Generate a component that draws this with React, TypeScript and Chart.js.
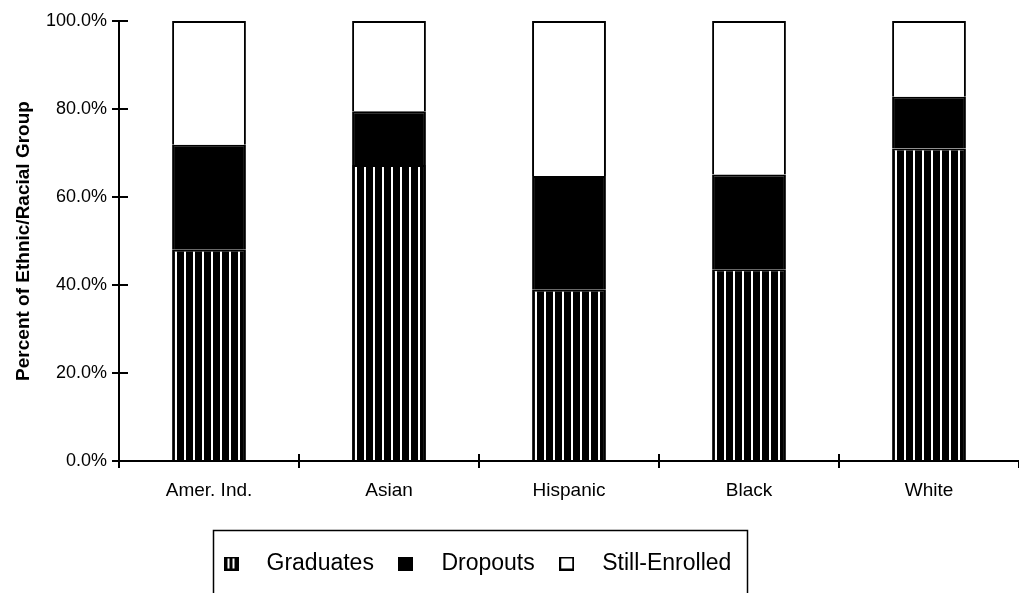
import { useEffect, useRef } from "react";
import { Chart, registerables } from "chart.js";

Chart.register(...registerables);

const categories = ["Amer. Ind.", "Asian", "Hispanic", "Black", "White"];
const seriesNames = ["Graduates", "Dropouts", "Still-Enrolled"];
const graduates = [48.0, 67.3, 38.9, 43.6, 71.0];
const dropouts = [23.9, 12.2, 25.9, 21.5, 11.8];
const stillEnrolled = [28.1, 20.5, 35.2, 34.9, 17.2];
const yTickLabels = ["0.0%", "20.0%", "40.0%", "60.0%", "80.0%", "100.0%"];
const yAxisTitle = "Percent of Ethnic/Racial Group";

const FONT = "'Liberation Sans', Arial, Helvetica, sans-serif";
const LEGEND_START = 207;
const LEGEND_FRAME_WIDTH = 534;

function makeCanvas(w: number, h: number, draw: (c: CanvasRenderingContext2D) => void) {
  const c = document.createElement("canvas");
  c.width = w;
  c.height = h;
  const ctx = c.getContext("2d") as CanvasRenderingContext2D;
  draw(ctx);
  return c;
}

const axisDecor = {
  id: "axisDecor",
  afterLayout(chart: any) {
    const lg = chart.legend;
    if (!lg || !lg.lineWidths) return;
    const pad = lg.options.labels.padding;
    const start = (lg.left + pad + lg.right - lg.lineWidths[0]) / 2;
    const shift = LEGEND_START - start;
    lg.left += shift;
    lg.right += shift;
  },
  afterDraw(chart: any) {
    const { ctx, chartArea } = chart;
    const x = chart.scales.x;
    const y = chart.scales.y;
    ctx.save();
    ctx.strokeStyle = "#000";
    ctx.lineWidth = 2;
    const line = (x1: number, y1: number, x2: number, y2: number) => {
      ctx.beginPath();
      ctx.moveTo(x1, y1);
      ctx.lineTo(x2, y2);
      ctx.stroke();
    };
    y.ticks.forEach((t: any) => {
      const py = Math.round(y.getPixelForValue(t.value));
      line(chartArea.left, py, chartArea.left + 9, py);
    });
    for (let i = 1; i < categories.length; i++) {
      const px = Math.round((x.getPixelForValue(i - 1) + x.getPixelForValue(i)) / 2);
      line(px, chartArea.bottom, px, chartArea.bottom - 7);
    }
    const lg = chart.legend;
    if (lg && lg.lineWidths) {
      const pad = lg.options.labels.padding;
      const start = (lg.left + pad + lg.right - lg.lineWidths[0]) / 2;
      ctx.lineWidth = 1.5;
      ctx.strokeRect(Math.round(start + 6) + 0.5, Math.round(lg.top - 14) + 0.5, LEGEND_FRAME_WIDTH, 120);
    }
    ctx.restore();
  },
};

export default function App() {
  const ref = useRef<HTMLCanvasElement | null>(null);

  useEffect(() => {
    const canvas = ref.current;
    if (!canvas) return;
    const ctx = canvas.getContext("2d") as CanvasRenderingContext2D;

    const tile = makeCanvas(9, 9, (c) => {
      c.fillStyle = "#000";
      c.fillRect(0, 0, 9, 9);
      c.fillStyle = "#fff";
      c.fillRect(4, 0, 2, 9);
    });
    const stripe = ctx.createPattern(tile, "repeat") as CanvasPattern;

    const iconGrad = makeCanvas(15, 14, (c) => {
      c.fillStyle = "#000";
      c.fillRect(0, 0, 15, 14);
      c.fillStyle = "#fff";
      c.fillRect(4, 2, 2, 10);
      c.fillRect(9, 2, 2, 10);
    });
    const iconDrop = makeCanvas(15, 14, (c) => {
      c.fillStyle = "#000";
      c.fillRect(0, 0, 15, 14);
    });
    const iconStill = makeCanvas(15, 14, (c) => {
      c.fillStyle = "#fff";
      c.fillRect(0, 0, 15, 14);
      c.strokeStyle = "#000";
      c.lineWidth = 2;
      c.strokeRect(1, 1, 13, 12);
    });
    const icons = [iconGrad, iconDrop, iconStill];

    const common = {
      borderColor: "#000",
      borderWidth: 2,
      barPercentage: 0.41,
      categoryPercentage: 1,
    };

    const chart = new Chart(canvas, {
      type: "bar",
      data: {
        labels: categories,
        datasets: [
          { label: seriesNames[0], data: graduates, backgroundColor: stripe, ...common },
          { label: seriesNames[1], data: dropouts, backgroundColor: "#000", ...common },
          { label: seriesNames[2], data: stillEnrolled, backgroundColor: "#fff", ...common },
        ],
      },
      options: {
        responsive: false,
        animation: false,
        layout: { padding: { top: 21, bottom: 8, left: 0, right: 0 } },
        plugins: {
          tooltip: { enabled: false },
          legend: {
            position: "bottom",
            labels: {
              usePointStyle: true,
              pointStyleWidth: 48,
              boxHeight: 14,
              padding: 8,
              color: "#000",
              font: { family: FONT, size: 23 },
              generateLabels: (ch: any) =>
                ch.data.datasets.map((ds: any, i: number) => ({
                  text: ds.label,
                  fillStyle: "#000",
                  strokeStyle: "#000",
                  lineWidth: 0,
                  pointStyle: icons[i],
                  hidden: false,
                  datasetIndex: i,
                  fontColor: "#000",
                })),
            },
          },
        },
        scales: {
          x: {
            stacked: true,
            grid: {
              display: true,
              drawOnChartArea: false,
              drawTicks: true,
              tickLength: 7,
              color: "#000",
              lineWidth: 2,
              offset: true,
            },
            border: { display: true, color: "#000", width: 2 },
            ticks: {
              font: { family: FONT, size: 19 },
              color: "#000",
              padding: 11,
              maxRotation: 0,
              autoSkip: false,
            },
            afterFit: (s: any) => {
              s.height = 83;
            },
          },
          y: {
            stacked: true,
            min: 0,
            max: 100,
            ticks: {
              stepSize: 20,
              font: { family: FONT, size: 18 },
              color: "#000",
              padding: 5,
              callback: (_v: any, i: number) => yTickLabels[i],
            },
            grid: {
              display: true,
              drawOnChartArea: false,
              drawTicks: true,
              tickLength: 7,
              color: "#000",
              lineWidth: 2,
            },
            border: { display: true, color: "#000", width: 2 },
            title: {
              display: true,
              text: yAxisTitle,
              color: "#000",
              font: { family: FONT, size: 19, weight: "bold" },
              padding: { top: 12, bottom: 0 },
            },
            afterFit: (s: any) => {
              s.width = 119;
            },
          },
        },
      },
      plugins: [axisDecor],
    } as any);

    return () => chart.destroy();
  }, []);

  return (
    <div style={{ position: "absolute", left: 0, top: 0, width: 1019, height: 593, background: "#fff" }}>
      <canvas ref={ref} width={1019} height={593} style={{ display: "block" }} />
    </div>
  );
}
